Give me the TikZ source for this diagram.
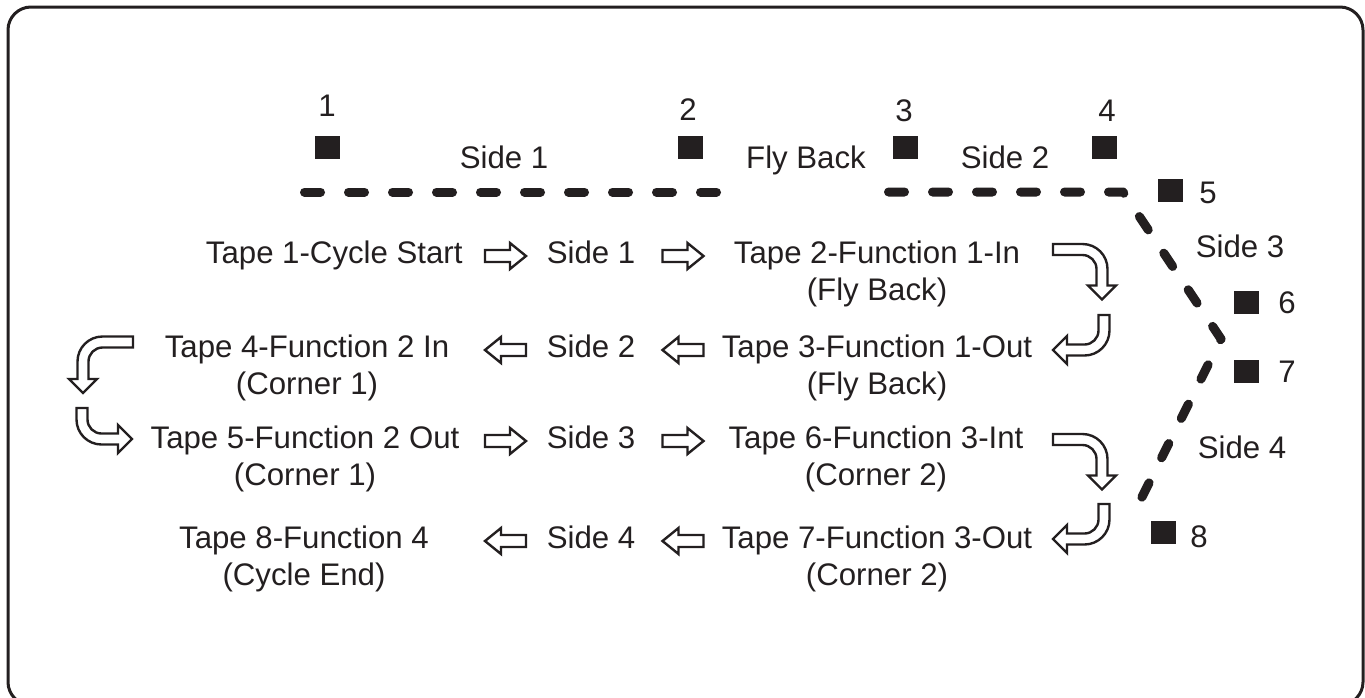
\documentclass[tikz,border=0pt]{standalone}
\usepackage{fontspec}
\setmainfont{Liberation Sans}
\usepackage{tikz}
\usetikzlibrary{calc}

\definecolor{ink}{HTML}{231F20}

\tikzset{
  txt/.style={inner sep=0pt, text=ink, font=\fontsize{15.6}{18.5}\selectfont},
  tape/.style={txt, align=center},
  sq/.style={fill=ink, inner sep=0pt, minimum width=12.5pt, minimum height=11.5pt},
  route/.style={draw=ink, line width=4.5pt, line cap=round, line join=round, dash pattern=on 8pt off 14pt},
  hollow/.style={draw=ink, fill=white, line width=1.2pt, line join=miter},
  % straight outline arrow, centred on the pic origin
  pics/barrow/.style={code={
    \draw[hollow] (-20.5,-6) -- (4.5,-6) -- (4.5,-13) -- (20.5,0) -- (4.5,13) -- (4.5,6) -- (-20.5,6) -- cycle;
  }},
  % bent outline arrow: #1 = first leg, #2 = second leg
  pics/hook/.style 2 args={code={
    \draw[hollow] (0,-5.5) -- ({#1-19.5},-5.5)
      .. controls ({#1-5.7},-5.5) and ({#1+5.5},5.7) .. ({#1+5.5},19.5)
      -- ({#1+5.5},{#2-14}) -- ({#1+14},{#2-14}) -- (#1,#2) -- ({#1-14},{#2-14}) -- ({#1-5.5},{#2-14})
      -- ({#1-5.5},19.5)
      .. controls ({#1-5.5},11.8) and ({#1-11.8},5.5) .. ({#1-19.5},5.5)
      -- (0,5.5) -- cycle;
  }}
}

\begin{document}
\begin{tikzpicture}[x=0.5pt, y=-0.5pt, line join=round, line cap=round]
\path[use as bounding box] (0,0) rectangle (1365,697);
\clip (0,0) rectangle (1365,697);

% Frame
\draw[ink, line width=1.5pt, rounded corners=11.5pt] (8,7) rectangle (1363,705);

% Route corners
\coordinate (a1) at (304.5,192);
\coordinate (a2) at (721.5,192);
\coordinate (b1) at (888.5,192);
\coordinate (b2) at (1123,192);
\coordinate (b3) at (1221,339);
\coordinate (b4) at (1134,513);

% Dashed route
\draw[route] (a1) -- (a2);
\draw[route] (b1) -- (b2) -- (b3) -- (b4);

% Stations
\node[sq] (p1) at (327.5,147.5) {};
\node[sq] (p2) at (690,147.5) {};
\node[sq] (p3) at (905.5,147.5) {};
\node[sq] (p4) at (1104,147.5) {};
\node[sq] (p5) at (1170,190.5) {};
\node[sq] (p6) at (1246.5,302.5) {};
\node[sq] (p7) at (1246.5,371) {};
\node[sq] (p8) at (1163.5,532.5) {};

% Station numbers
\node[txt, anchor=base] (n1) at (327,116) {1};
\node[txt, anchor=base] (n2) at (688,120) {2};
\node[txt, anchor=base] (n3) at (904,121) {3};
\node[txt, anchor=base] (n4) at (1107,121) {4};
\node[txt, anchor=base] (n5) at (1208,203) {5};
\node[txt, anchor=base] (n6) at (1287,313) {6};
\node[txt, anchor=base] (n7) at (1287,382) {7};
\node[txt, anchor=base] (n8) at (1199,547) {8};

% Route labels
\node[txt, anchor=base] (lside1) at (504,168) {Side 1};
\node[txt, anchor=base] (lfly) at (806,168) {Fly Back};
\node[txt, anchor=base] (lside2) at (1005,168) {Side 2};
\node[txt, anchor=base] (lside3) at (1240,257) {Side 3};
\node[txt, anchor=base] (lside4) at (1242,458) {Side 4};

% Sequence
\node[txt, anchor=base east] (t1) at (463,263) {Tape 1-Cycle Start};
\node[txt, anchor=base] (s1) at (591,263) {Side 1};
\node[tape] (t2) at (877,273.6) {Tape 2-Function 1-In\\(Fly Back)};
\node[tape] (t3) at (877,367.6) {Tape 3-Function 1-Out\\(Fly Back)};
\node[txt, anchor=base] (s2) at (591,357) {Side 2};
\node[tape] (t4) at (307,367.6) {Tape 4-Function 2 In\\(Corner 1)};
\node[tape] (t5) at (305,458.6) {Tape 5-Function 2 Out\\(Corner 1)};
\node[txt, anchor=base] (s3) at (591,448) {Side 3};
\node[tape] (t6) at (876,458.6) {Tape 6-Function 3-Int\\(Corner 2)};
\node[tape] (t7) at (877,558.6) {Tape 7-Function 3-Out\\(Corner 2)};
\node[txt, anchor=base] (s4) at (591,548) {Side 4};
\node[tape] (t8) at (304,558.6) {Tape 8-Function 4\\(Cycle End)};

% Straight arrows
\pic at ($(s1.base)+(-85.5,-7)$) {barrow};
\pic at ($(s1.base)+(92,-7)$) {barrow};
\pic[rotate=180] at ($(s2.base)+(-85.5,-7)$) {barrow};
\pic[rotate=180] at ($(s2.base)+(92,-7)$) {barrow};
\pic at ($(s3.base)+(-85.5,-7)$) {barrow};
\pic at ($(s3.base)+(92,-7)$) {barrow};
\pic[rotate=180] at ($(s4.base)+(-85.5,-7)$) {barrow};
\pic[rotate=180] at ($(s4.base)+(92,-7)$) {barrow};

% Bent arrows
\pic at (1053,249.5) {hook={49}{50}};
\pic[rotate=-90] at (1104,315) {hook={35}{51}};
\pic at (1053,439.5) {hook={49}{50}};
\pic[rotate=-90] at (1104,504) {hook={35}{51}};
\pic[xscale=-1] at (133,342) {hook={50}{51}};
\pic[rotate=-90, yscale=-1] at (82,408) {hook={31}{50}};

\end{tikzpicture}
\end{document}
